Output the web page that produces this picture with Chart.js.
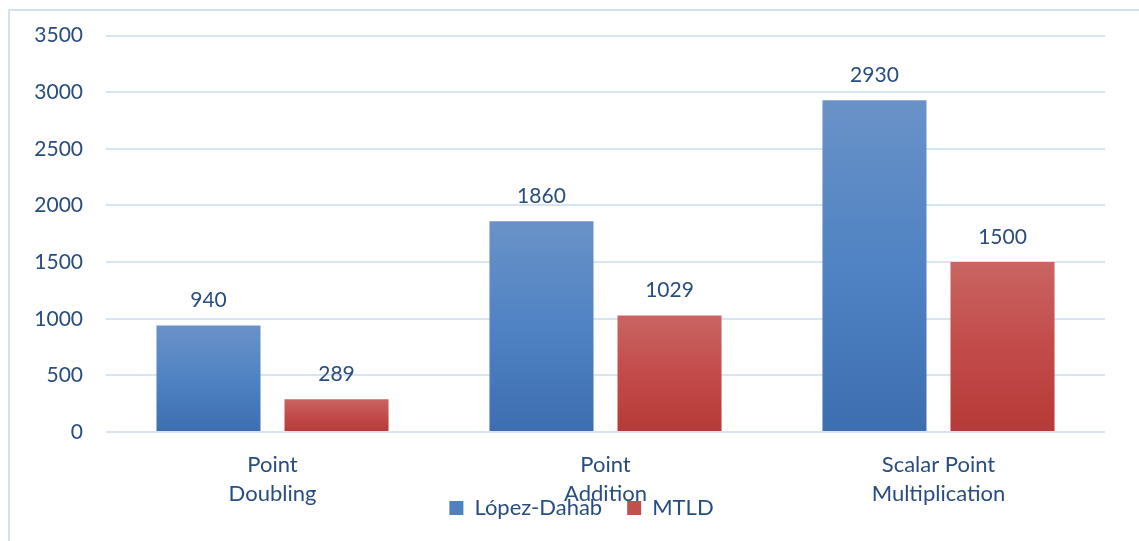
<!DOCTYPE html>
<html>
<head>
<meta charset="utf-8">
<script src="https://cdn.jsdelivr.net/npm/chart.js@4/dist/chart.umd.min.js"></script>
<style>
html,body{margin:0;padding:0;background:#fff;}
#wrap{width:1139px;height:541px;position:relative;}
</style>
</head>
<body>
<div id="wrap"><canvas id="c" width="1139" height="541"></canvas></div>
<script>
const categories = [["Point","Doubling"],["Point","Addition"],["Scalar Point","Multiplication"]];
const seriesNames = ["López-Dahab","MTLD"];
const lopezDahab = [940, 1860, 2930];
const mtld = [289, 1029, 1500];
const yTicks = [0, 500, 1000, 1500, 2000, 2500, 3000, 3500];

const TEXT = '#284D80';
const FONT = 'Lato';
const FS = 21;

function gradFill(top, mid, bottom) {
  return function(ctx) {
    const chart = ctx.chart;
    const ys = chart.scales && chart.scales.y;
    if (!ys || !chart.chartArea || ctx.raw === undefined) return bottom;
    const yTop = ys.getPixelForValue(ctx.raw);
    const yBase = ys.getPixelForValue(0);
    const g = chart.ctx.createLinearGradient(0, yTop, 0, yBase);
    g.addColorStop(0, top);
    g.addColorStop(0.5, mid);
    g.addColorStop(1, bottom);
    return g;
  };
}

const frame = {
  id: 'frame',
  beforeDraw(chart) {
    const c = chart.ctx;
    c.save();
    c.strokeStyle = '#D3E0F1';
    c.lineWidth = 2;
    c.beginPath();
    c.moveTo(9, 541);
    c.lineTo(9, 10);
    c.lineTo(1139, 10);
    c.stroke();
    c.restore();
  }
};

// Legend sits over the category labels, as in the reference
const placeLegend = {
  id: 'placeLegend',
  afterLayout(chart) {
    const lg = chart.legend;
    const x = chart.scales.x;
    x.bottom = chart.height;
    const h = lg.bottom - lg.top;
    lg.top = 472;
    lg.bottom = lg.top + h;
    lg.left += 29;
    lg.right += 29;
  }
};

const valueLabels = {
  id: 'valueLabels',
  afterDatasetsDraw(chart) {
    const c = chart.ctx;
    c.save();
    c.fillStyle = TEXT;
    c.font = FS + 'px ' + FONT;
    c.textAlign = 'center';
    c.textBaseline = 'middle';
    chart.data.datasets.forEach((ds, di) => {
      const meta = chart.getDatasetMeta(di);
      meta.data.forEach((el, i) => {
        c.fillText(String(ds.data[i]), el.x, el.y - 25);
      });
    });
    c.restore();
  }
};

new Chart(document.getElementById('c'), {
  type: 'bar',
  data: {
    labels: categories,
    datasets: [
      {
        label: seriesNames[0],
        data: lopezDahab,
        backgroundColor: gradFill('#6A92C8', '#4F83C3', '#3C6EB0'),
        borderWidth: 0,
        categoryPercentage: 0.769,
        barPercentage: 0.8125
      },
      {
        label: seriesNames[1],
        data: mtld,
        backgroundColor: gradFill('#C96563', '#C24B49', '#B63A37'),
        borderWidth: 0,
        categoryPercentage: 0.769,
        barPercentage: 0.8125
      }
    ]
  },
  options: {
    responsive: false,
    animation: false,
    devicePixelRatio: 1,
    layout: { padding: { left: 0, right: 34, top: 35, bottom: 0 } },
    plugins: {
      legend: {
        position: 'bottom',
        labels: {
          boxWidth: 14,
          boxHeight: 14,
          padding: 25,
          color: TEXT,
          font: { family: FONT, size: 22 },
          generateLabels(chart) {
            return chart.data.datasets.map((ds, i) => ({
              text: ds.label,
              fillStyle: i === 0 ? '#4F81BD' : '#C0504D',
              strokeStyle: 'rgba(0,0,0,0)',
              lineWidth: 0,
              datasetIndex: i,
              fontColor: TEXT
            }));
          }
        }
      },
      tooltip: { enabled: false }
    },
    scales: {
      x: {
        grid: { display: false, drawTicks: false },
        border: { display: false },
        ticks: {
          color: TEXT,
          font: { family: FONT, size: 22, lineHeight: 1.32 },
          padding: 18,
          maxRotation: 0,
          autoSkip: false
        },
        afterFit(scale) { scale.height = 52; }
      },
      y: {
        min: 0,
        max: 3500,
        afterBuildTicks(scale) { scale.ticks = yTicks.map(v => ({ value: v })); },
        grid: { color: '#D9E4F2', lineWidth: 2, drawTicks: false },
        border: { display: false },
        ticks: {
          color: TEXT,
          font: { family: FONT, size: FS },
          padding: 23,
          callback: (v) => String(v)
        },
        afterFit(scale) { scale.width = 106; }
      }
    }
  },
  plugins: [frame, placeLegend, valueLabels]
});
</script>
</body>
</html>
